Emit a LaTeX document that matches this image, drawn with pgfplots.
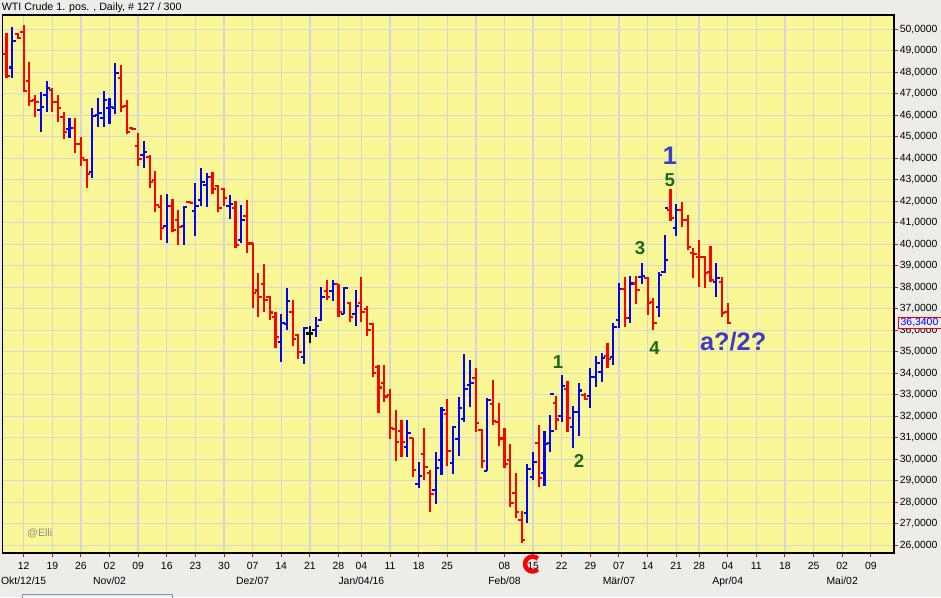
\documentclass[border=0pt]{standalone}
\usepackage{fontspec}
\setmainfont{Liberation Sans}
\usepackage{pgfplots}
\pgfplotsset{compat=1.18}
\usepackage{pgfplotstable}

\definecolor{upblue}{RGB}{0,0,255}
\definecolor{dnred}{RGB}{255,0,0}
\definecolor{plotyellow}{RGB}{250,248,150}
\definecolor{outergray}{RGB}{236,236,232}
\definecolor{gridgray}{RGB}{214,214,218}
\definecolor{wavegreen}{RGB}{25,105,25}
\definecolor{waveblue}{RGB}{60,60,200}
\definecolor{uiblue}{RGB}{125,150,185}
\definecolor{markgray}{RGB}{140,140,140}

% trading-day index (0 = Okt 12, 2015), open, high, low, close
\pgfplotstableread{
x o h l c
-2 48.22 50.12 47.75 49.46
3 46.25 47.10 45.24 46.40
4 46.94 47.59 46.17 47.28
8 45.35 45.86 44.93 45.42
12 43.36 46.32 43.10 45.98
13 46.01 46.79 45.47 46.12
14 45.86 47.13 45.47 46.71
15 46.32 46.79 45.60 46.37
16 46.35 48.45 46.05 47.95
21 44.14 44.80 43.56 44.29
25 40.87 42.34 40.08 41.80
28 40.87 41.78 39.96 41.75
30 41.56 42.85 40.40 41.80
31 42.06 43.53 41.80 42.91
32 42.76 43.30 41.75 43.13
36 41.80 42.29 41.18 41.86
38 40.20 41.82 40.08 41.13
45 35.47 36.76 34.54 36.35
46 36.29 37.95 36.01 37.38
49 34.77 36.17 34.42 36.09
51 36.01 36.62 35.67 36.20
52 36.48 38.00 36.41 37.56
54 37.84 38.33 37.38 38.15
56 36.76 38.00 36.76 37.95
58 36.77 37.87 36.21 37.14
67 30.59 31.83 30.12 31.24
69 28.85 29.86 28.65 29.22
72 28.57 30.32 27.91 29.61
73 29.97 32.45 29.27 32.29
75 29.84 31.55 29.30 31.49
76 30.94 32.91 30.17 32.37
77 31.87 34.90 31.72 33.27
78 33.46 34.62 32.45 33.53
81 29.47 32.87 29.46 32.76
88 27.49 29.78 27.02 29.55
89 29.16 30.32 29.04 29.89
91 29.35 31.33 28.77 30.71
92 30.74 32.06 30.32 31.33
94 32.03 33.93 31.72 33.42
96 31.49 32.48 30.54 32.22
97 32.22 33.56 31.10 33.20
99 32.96 34.26 32.37 33.84
100 33.84 34.80 33.38 34.46
101 34.05 34.95 33.58 34.70
103 34.77 36.35 34.39 36.17
104 36.48 38.22 36.09 37.91
106 36.56 38.54 36.35 38.18
108 38.49 39.12 38.15 38.54
111 37.10 38.73 36.63 38.57
112 38.73 40.43 38.68 39.27
114 40.74 41.87 40.39 41.59
121 38.26 39.15 37.57 38.42
}\upbars

\pgfplotstableread{
x o h l c
-3 48.84 49.81 47.72 47.83
-1 49.77 49.81 49.53 49.61
0 49.89 50.20 47.10 47.15
1 47.61 48.49 46.43 46.68
2 46.71 46.94 45.94 46.63
5 47.17 47.25 46.17 46.63
6 46.63 46.94 45.70 46.32
7 45.94 46.14 44.88 45.24
9 45.42 45.86 44.23 44.65
10 44.65 45.01 43.66 44.03
11 43.92 43.95 42.60 43.25
17 47.72 48.34 46.17 46.37
18 46.43 46.71 45.11 45.21
19 45.42 45.47 45.32 45.37
20 44.59 45.16 43.66 43.95
22 44.07 44.15 42.60 42.91
23 42.99 43.41 41.52 41.83
24 41.75 42.29 40.20 40.77
26 41.80 42.11 40.59 40.66
27 41.13 41.60 39.96 40.82
29 41.98 42.03 41.90 41.91
33 43.15 43.35 42.32 42.56
34 42.71 42.76 41.52 41.67
35 42.57 42.63 41.80 42.14
37 41.67 42.02 39.81 39.98
39 41.33 42.06 39.61 40.04
40 40.04 40.04 37.02 37.72
41 37.85 38.65 36.63 37.55
42 38.17 39.08 36.87 37.40
43 37.56 37.59 36.50 36.83
44 36.60 36.87 35.19 35.68
47 36.87 37.41 35.28 35.60
48 35.78 35.83 34.65 34.99
53 37.84 38.34 37.40 37.56
55 38.14 38.15 36.63 36.85
57 37.27 37.33 36.40 36.63
59 37.25 38.48 36.40 36.87
60 36.99 37.13 35.73 36.01
61 36.29 36.33 33.81 34.03
62 34.29 34.37 32.14 33.34
63 33.56 34.39 32.68 32.92
64 32.99 33.26 30.93 31.44
65 31.39 32.29 29.94 30.82
66 31.30 31.83 30.12 30.82
68 30.98 30.98 29.16 29.50
70 30.23 31.47 29.04 29.63
71 29.35 29.50 27.56 28.39
74 32.09 32.79 29.70 30.40
79 33.80 34.23 31.29 31.67
80 31.36 31.39 29.61 29.94
82 32.56 33.69 31.60 31.78
83 31.75 32.63 30.63 30.97
84 30.97 31.44 29.61 29.77
85 29.97 30.71 27.77 27.98
86 28.45 29.35 27.29 27.53
87 27.18 27.60 26.09 26.25
90 30.77 31.60 28.73 29.15
93 32.60 32.95 31.38 31.85
95 33.26 33.64 31.25 31.94
98 32.99 33.07 32.76 32.81
102 34.80 35.39 34.23 34.65
105 37.91 38.49 36.17 36.56
107 38.18 38.54 37.22 37.87
109 38.42 38.49 36.71 37.25
110 37.33 37.49 36.01 36.35
113 41.59 42.57 41.10 41.21
115 41.59 41.98 40.79 41.13
116 41.13 41.36 39.73 39.86
117 39.61 39.84 38.42 39.55
118 39.42 40.20 38.03 39.39
119 39.42 39.46 37.95 38.65
120 38.70 39.92 38.23 38.34
122 38.26 38.46 36.63 36.79
123 36.87 37.25 36.29 36.34
}\downbars

\pgfplotstableread{
x o h l c
50 35.85 36.20 35.39 35.85
}\flatbars

\pgfplotstableread{
x y
92 33.02
112 41.70
}\dashbars

\newcommand{\ohlc}[2]{%
  \addplot[draw=none, mark=none, forget plot, error bars/.cd, y dir=plus, y explicit, error mark=none,
    error bar style={draw=#2, line width=1.6pt}]
    table[x=x, y=l, y error expr=\thisrow{h}-\thisrow{l}] {#1};
  \addplot[draw=none, mark=none, forget plot, error bars/.cd, x dir=minus, x fixed=0.6, error mark=none,
    error bar style={draw=#2, line width=1.6pt}]
    table[x=x, y=o] {#1};
  \addplot[draw=none, mark=none, forget plot, error bars/.cd, x dir=plus, x fixed=0.6, error mark=none,
    error bar style={draw=#2, line width=1.6pt}]
    table[x=x, y=c] {#1};
}

\begin{document}
\begin{tikzpicture}
\fill[outergray] (0,0) rectangle (705.75pt,447.75pt);
\node[anchor=west, inner sep=0pt, font=\fontsize{8}{9.6}\selectfont] at (1.2pt,441.9pt)
  {WTI Crude 1. pos. , Daily, \# 127 / 300};
\draw[uiblue, line width=0.75pt] (16.5pt,-2pt) rectangle (129pt,1.8pt);

\begin{axis}[
  at={(2pt,32.8pt)}, anchor=south west,
  width=668.7pt, height=403.7pt, scale only axis,
  xmin=-3.67, xmax=152.1, ymin=25.63, ymax=50.665,
  axis background/.style={fill=plotyellow},
  axis line style={black, line width=1.2pt},
  clip=false,
  grid=major,
  major grid style={gridgray, line width=1pt},
  xtick pos=left, ytick pos=right, yticklabel pos=right,
  tick align=outside,
  major tick length=3pt,
  tick style={dnred, line width=0.75pt},
  xtick={0,5,10,15,20,25,30,35,40,45,50,55,59,64,69,74,84,89,94,99,104,109,114,118,123,128,133,138,143,148},
  xticklabels={{12\\Okt/12/15},19,26,{02\\Nov/02},09,16,23,30,{07\\Dez/07},14,21,28,{04\\Jan/04/16},11,18,25,{08\\Feb/08},15,22,29,{07\\Mär/07},14,21,28,{04\\Apr/04},11,18,25,{02\\Mai/02},09},
  extra x ticks={79}, extra x tick labels={},
  extra x tick style={grid=major, major tick length=0pt,
    major grid style={gridgray, line width=1pt, shorten <=1pt, shorten >=1pt}},
  x tick label style={font=\fontsize{7.8}{10.7}\selectfont, align=center, anchor=north, yshift=-0.5pt},
  ytick={26,27,...,50},
  yticklabels={{26,0000},{27,0000},{28,0000},{29,0000},{30,0000},{31,0000},{32,0000},{33,0000},{34,0000},{35,0000},{36,0000},{37,0000},{38,0000},{39,0000},{40,0000},{41,0000},{42,0000},{43,0000},{44,0000},{45,0000},{46,0000},{47,0000},{48,0000},{49,0000},{50,0000}},
  y tick label style={font=\fontsize{7.8}{9}\selectfont, anchor=west, inner xsep=1pt},
]
\ohlc{\upbars}{upblue}
\ohlc{\downbars}{dnred}
\ohlc{\flatbars}{black}
\addplot[draw=none, mark=none, forget plot, error bars/.cd, x dir=plus, x fixed=0.65, error mark=none,
    error bar style={draw=upblue, line width=1.6pt}] table[x=x, y=y] {\dashbars};

% wave labels
\node[text=wavegreen, font=\fontsize{14}{16}\selectfont\bfseries] at (axis cs:93.36,34.53) {1};
\node[text=wavegreen, font=\fontsize{14}{16}\selectfont\bfseries] at (axis cs:97.03,29.93) {2};
\node[text=wavegreen, font=\fontsize{14}{16}\selectfont\bfseries] at (axis cs:107.7,39.81) {3};
\node[text=wavegreen, font=\fontsize{14}{16}\selectfont\bfseries] at (axis cs:110.2,35.16) {4};
\node[text=wavegreen, font=\fontsize{14}{16}\selectfont\bfseries] at (axis cs:112.9,42.96) {5};
\node[text=waveblue, font=\fontsize{19}{22}\selectfont\bfseries] at (axis cs:112.9,44.11) {1};
\node[text=waveblue, font=\fontsize{19}{22}\selectfont\bfseries] at (axis cs:123.95,35.46) {a?/2?};
\node[text=markgray, font=\fontsize{8}{9}\selectfont] at (axis cs:2.8,26.55) {@Elli};
% last price tag
\node[anchor=west, draw=dnred, fill=outergray, text=upblue, line width=0.75pt,
  font=\fontsize{7.8}{9}\selectfont, inner xsep=2pt, inner ysep=1.2pt, text width=36pt, align=left]
  at (axis cs:152.67,36.34) {36,3400};
\end{axis}

% red wave-C mark under the axis
\draw[dnred, line width=3.4pt] (399.4pt,24.75pt) ++(45:5.6pt)
  arc[start angle=45, end angle=315, radius=5.6pt];

\pgfresetboundingbox
\path[use as bounding box] (0,0) rectangle (705.75pt,447.75pt);
\end{tikzpicture}
\end{document}
